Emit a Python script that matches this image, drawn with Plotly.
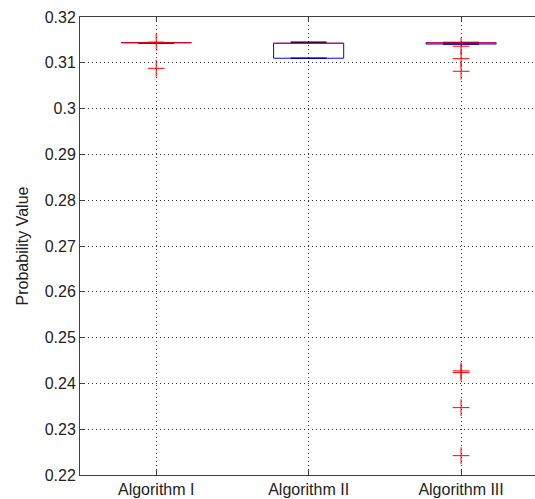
import plotly.graph_objects as go

categories = ["Algorithm I", "Algorithm II", "Algorithm III"]
positions = [1, 2, 3]
q1 = [0.3144, 0.3110, 0.31410]
median = [0.3144, 0.31427, 0.31436]
q3 = [0.3144, 0.31427, 0.31436]
lower_whisker = [0.3144, 0.3110, 0.31410]
upper_whisker = [0.3144, 0.31449, 0.31445]
outliers = [
    [0.31452, 0.3088],
    [],
    [0.31362, 0.3109, 0.30815, 0.24273, 0.24236, 0.23471, 0.22422],
]
y_ticks = [0.22, 0.23, 0.24, 0.25, 0.26, 0.27, 0.28, 0.29, 0.30, 0.31, 0.32]
y_ticktext = ["0.22", "0.23", "0.24", "0.25", "0.26", "0.27", "0.28", "0.29", "0.3", "0.31", "0.32"]

BOX_HALF = 0.23
CAP_HALF = 0.118
FONT = "Liberation Sans, Arial, sans-serif"

fig = go.Figure()

for i, x in enumerate(positions):
    # whiskers (dashed black)
    fig.add_trace(go.Scatter(
        x=[x, x, None, x, x],
        y=[q3[i], upper_whisker[i], None, q1[i], lower_whisker[i]],
        mode="lines", line=dict(color="black", width=1, dash="dash"),
        showlegend=False, hoverinfo="skip"))
    # whisker caps (black)
    fig.add_trace(go.Scatter(
        x=[x - CAP_HALF, x + CAP_HALF, None, x - CAP_HALF, x + CAP_HALF],
        y=[upper_whisker[i], upper_whisker[i], None, lower_whisker[i], lower_whisker[i]],
        mode="lines", line=dict(color="black", width=1.5),
        showlegend=False, hoverinfo="skip"))
    # box (blue)
    fig.add_trace(go.Scatter(
        x=[x - BOX_HALF, x + BOX_HALF, x + BOX_HALF, x - BOX_HALF, x - BOX_HALF],
        y=[q1[i], q1[i], q3[i], q3[i], q1[i]],
        mode="lines", line=dict(color="rgb(0,0,255)", width=1),
        showlegend=False, hoverinfo="skip"))
    # median (red)
    fig.add_trace(go.Scatter(
        x=[x - BOX_HALF, x + BOX_HALF],
        y=[median[i], median[i]],
        mode="lines", line=dict(color="rgb(255,0,0)", width=1),
        showlegend=False, hoverinfo="skip"))

for i, x in enumerate(positions):
    if outliers[i]:
        fig.add_trace(go.Scatter(
            x=[x] * len(outliers[i]), y=outliers[i], mode="markers",
            marker=dict(symbol="cross-thin", size=12,
                        line=dict(color="rgb(255,0,0)", width=1)),
            showlegend=False, hoverinfo="skip"))

fig.update_layout(
    width=535, height=499,
    margin=dict(l=80, r=0, t=17, b=24, autoexpand=False),
    paper_bgcolor="white", plot_bgcolor="white",
    font=dict(family=FONT, size=16, color="#222222"),
)
fig.update_xaxes(
    range=[0.5, 3.485], tickmode="array", tickvals=positions, ticktext=categories,
    showline=True, linecolor="#404040", linewidth=1, mirror="ticks",
    ticks="inside", ticklen=5, tickcolor="#404040",
    showgrid=True, gridcolor="#333333", gridwidth=1, griddash="1px,3px",
    zeroline=False, tickfont=dict(size=16), automargin=False,
)
fig.update_yaxes(
    range=[0.22, 0.32], tickmode="array", tickvals=y_ticks, ticktext=y_ticktext,
    showline=True, linecolor="#404040", linewidth=1,
    ticks="inside", ticklen=5, tickcolor="#404040",
    showgrid=True, gridcolor="#333333", gridwidth=1, griddash="1px,3px",
    zeroline=False, tickfont=dict(size=16), automargin=False,
    title=dict(text="Probability Value", font=dict(size=16), standoff=12),
)

fig.write_html(
    "out.html",
    config={"displayModeBar": False},
    post_script=(
        "document.body.style.margin='0';"
        "document.body.style.overflow='hidden';"
        "document.documentElement.style.overflow='hidden';"
    ),
)
